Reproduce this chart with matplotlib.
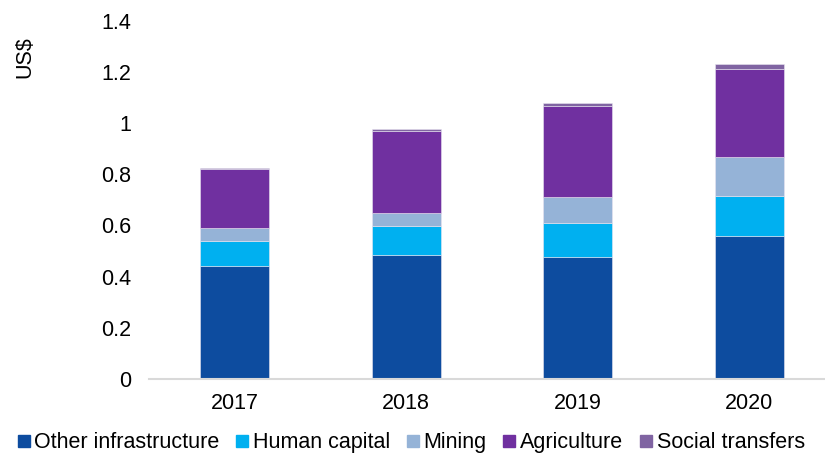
import matplotlib.pyplot as plt
import numpy as np
from matplotlib.lines import Line2D

plt.rcParams['font.family'] = ['Liberation Sans', 'DejaVu Sans']

# Values (US$)
years = ["2017", "2018", "2019", "2020"]
other_infra = [0.441, 0.485, 0.477, 0.559]
human_capital = [0.097, 0.112, 0.133, 0.156]
mining = [0.050, 0.053, 0.101, 0.150]
agriculture = [0.234, 0.317, 0.355, 0.345]
social_transfers = [0.003, 0.008, 0.012, 0.021]

series = [
    ("Other infrastructure", other_infra, "#0D4C9F"),
    ("Human capital", human_capital, "#00B0F0"),
    ("Mining", mining, "#95B3D7"),
    ("Agriculture", agriculture, "#7030A0"),
    ("Social transfers", social_transfers, "#8064A2"),
]

fig = plt.figure(figsize=(8.25, 4.54), dpi=100)
ax = fig.add_axes([149 / 825, 1 - 379 / 454, 686 / 825, (379 - 20.5) / 454])

x = np.arange(len(years))
bottom = np.zeros(len(years))
for name, vals, col in series:
    ax.bar(x, vals, width=0.4, bottom=bottom, color=col,
           edgecolor="#E8E4F0", linewidth=0.4, label=name)
    bottom += np.array(vals)

ax.set_xlim(-0.5, 3.5)
ax.set_ylim(0, 1.4)
ax.set_yticks([0, 0.2, 0.4, 0.6, 0.8, 1.0, 1.2, 1.4])
ax.set_yticklabels(["0", "0.2", "0.4", "0.6", "0.8", "1", "1.2", "1.4"])
ax.set_xticks(x)
ax.set_xticklabels(years)
ax.tick_params(axis="both", length=0, labelsize=15.5, colors="black")
ax.tick_params(axis="y", pad=13)
ax.tick_params(axis="x", pad=10)

for s in ["top", "right", "left"]:
    ax.spines[s].set_visible(False)
ax.spines["bottom"].set_color("#D9D9D9")
ax.spines["bottom"].set_linewidth(1.5)

fig.text(25 / 825, 1 - 57 / 454, "US$", rotation=90, fontsize=15.5,
         ha="center", va="center")

handles = [Line2D([0], [0], marker="s", linestyle="none", markersize=9,
                  markerfacecolor=col, markeredgecolor=col)
           for _, _, col in series]
labels = [name for name, _, _ in series]
fig.legend(handles, labels, loc="lower center", bbox_to_anchor=(0.498, -0.027),
           ncol=5, frameon=False, fontsize=15.5, handlelength=0.6,
           handletextpad=0.2, columnspacing=0.75, borderaxespad=0.2)

fig.savefig("out.png", dpi=100)
